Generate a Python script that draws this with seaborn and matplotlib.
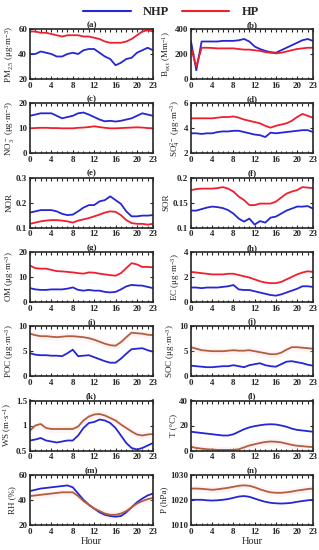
import numpy as np
import pandas as pd
import matplotlib.pyplot as plt
import seaborn as sns
from matplotlib.ticker import MultipleLocator, FixedLocator

hours = list(range(24))

pm25_nhp = [40, 40, 42, 41, 40, 38, 38, 40, 41, 40, 43, 44, 44, 41, 38, 36, 31, 33, 36, 37, 41, 43, 45, 43]
pm25_hp = [58, 58, 57, 57, 56, 55, 54, 55, 55, 55, 54, 54, 53, 52, 50, 49, 49, 49, 50, 52, 55, 58, 59, 58]

bext_nhp = [300, 70, 300, 300, 300, 300, 305, 305, 305, 310, 320, 300, 260, 240, 225, 215, 210, 230, 250, 270, 290, 310, 320, 305]
bext_hp = [250, 100, 250, 250, 248, 245, 245, 245, 245, 240, 235, 235, 230, 225, 215, 210, 205, 210, 220, 230, 240, 245, 250, 250]

no3_nhp = [15, 15.5, 16, 16, 16, 15, 14, 14.5, 15, 16, 16.3, 15.5, 14.5, 13.5, 12.8, 13, 12.7, 13, 13.5, 14, 15, 16, 15.5, 15]
no3_hp = [10, 10.1, 10.2, 10.2, 10.1, 10.1, 10, 10, 10, 10.2, 10.3, 10.5, 10.8, 10.5, 10.2, 10, 10, 10.1, 10.2, 10.3, 10.4, 10.3, 10.1, 10]

so4_nhp = [3.6, 3.6, 3.55, 3.6, 3.6, 3.7, 3.75, 3.75, 3.8, 3.8, 3.7, 3.6, 3.5, 3.45, 3.3, 3.65, 3.6, 3.65, 3.7, 3.75, 3.8, 3.85, 3.85, 3.7]
so4_hp = [4.8, 4.8, 4.8, 4.8, 4.8, 4.85, 4.9, 4.9, 4.95, 4.85, 4.7, 4.6, 4.5, 4.4, 4.2, 4.05, 4.2, 4.3, 4.4, 4.6, 4.9, 5.15, 5.0, 4.85]

nor_nhp = [0.16, 0.165, 0.17, 0.17, 0.17, 0.165, 0.155, 0.15, 0.152, 0.165, 0.18, 0.19, 0.19, 0.205, 0.21, 0.225, 0.21, 0.195, 0.165, 0.145, 0.145, 0.148, 0.148, 0.15]
nor_hp = [0.115, 0.12, 0.125, 0.128, 0.13, 0.13, 0.128, 0.125, 0.12, 0.128, 0.133, 0.138, 0.145, 0.152, 0.16, 0.165, 0.163, 0.15, 0.13, 0.118, 0.115, 0.115, 0.112, 0.115]

sor_nhp = [0.134, 0.134, 0.137, 0.14, 0.142, 0.141, 0.139, 0.135, 0.128, 0.118, 0.112, 0.118, 0.106, 0.113, 0.11, 0.12, 0.122, 0.128, 0.134, 0.138, 0.142, 0.142, 0.143, 0.138]
sor_hp = [0.175, 0.177, 0.178, 0.178, 0.178, 0.179, 0.181, 0.178, 0.172, 0.162, 0.155, 0.145, 0.145, 0.148, 0.148, 0.148, 0.152, 0.16, 0.168, 0.172, 0.175, 0.181, 0.18, 0.179]

om_nhp = [5.5, 5.0, 4.8, 4.8, 5.0, 5.0, 5.0, 5.3, 5.8, 4.8, 4.5, 4.8, 4.5, 4.5, 4.0, 3.8, 4.0, 5.0, 6.2, 6.8, 6.6, 6.5, 6.0, 5.5]
om_hp = [14.5, 13.5, 13.3, 13.3, 12.8, 12.3, 12.2, 12.0, 11.8, 11.5, 11.3, 11.8, 11.7, 11.3, 11.0, 10.7, 10.5, 11.5, 13.5, 15.5, 15.0, 14.0, 14.0, 13.8]

ec_nhp = [1.15, 1.15, 1.1, 1.15, 1.15, 1.15, 1.2, 1.25, 1.35, 1.0, 0.95, 0.95, 0.85, 0.75, 0.65, 0.55, 0.5, 0.6, 0.75, 0.9, 1.05, 1.25, 1.25, 1.2]
ec_hp = [2.4, 2.35, 2.3, 2.25, 2.2, 2.2, 2.2, 2.25, 2.25, 2.15, 2.05, 1.95, 1.8, 1.65, 1.55, 1.5, 1.5, 1.6, 1.8, 2.0, 2.2, 2.35, 2.45, 2.4]

poc_nhp = [4.6, 4.3, 4.2, 4.2, 4.1, 4.1, 4.0, 4.6, 5.3, 4.0, 4.1, 4.2, 3.8, 3.4, 3.0, 2.7, 2.7, 3.5, 4.5, 5.4, 5.5, 5.6, 5.2, 4.9]
poc_hp = [8.5, 8.2, 8.0, 8.0, 7.9, 7.8, 7.9, 8.0, 8.0, 7.9, 7.8, 7.6, 7.3, 6.9, 6.5, 6.2, 6.1, 6.8, 7.8, 8.7, 8.6, 8.5, 8.3, 8.2]

soc_nhp = [2.1, 2.0, 1.9, 1.8, 1.8, 1.9, 2.0, 2.0, 2.2, 2.0, 1.8, 2.2, 2.4, 2.6, 2.2, 2.0, 1.9, 2.4, 2.9, 3.0, 2.8, 2.6, 2.3, 2.1]
soc_hp = [5.8, 5.5, 5.2, 5.1, 5.0, 5.0, 5.0, 5.1, 5.2, 5.1, 5.1, 5.2, 5.0, 4.8, 4.6, 4.4, 4.4, 4.7, 5.3, 5.8, 5.8, 5.7, 5.6, 5.5]

ws_nhp = [0.7, 0.72, 0.75, 0.7, 0.68, 0.66, 0.68, 0.7, 0.7, 0.8, 0.95, 1.05, 1.07, 1.12, 1.1, 1.05, 0.95, 0.8, 0.65, 0.55, 0.52, 0.55, 0.6, 0.65]
ws_hp = [0.9, 1.0, 1.03, 0.95, 0.93, 0.93, 0.93, 0.93, 0.93, 0.98, 1.1, 1.18, 1.22, 1.23, 1.2, 1.15, 1.1, 1.02, 0.95, 0.88, 0.82, 0.8, 0.82, 0.83]

t_nhp = [15, 14.5, 14, 13.5, 13, 12.5, 12, 12, 13, 15, 17, 18.5, 19.5, 20.2, 20.8, 21, 20.8, 20, 19, 17.5, 16.5, 16, 15.5, 15]
t_hp = [3, 2, 1.5, 1, 0.8, 0.5, 0.5, 0.5, 0.5, 1, 2.5, 4, 5, 6, 6.8, 7.2, 7, 6.5, 5.5, 4.5, 3.8, 3.5, 3, 2.8]

rh_nhp = [47, 48, 49, 49.5, 50, 50.5, 51, 51.5, 50, 45, 40, 36, 33, 30, 28, 27, 26.5, 27, 30, 34, 38, 41, 43.5, 45]
rh_hp = [43, 43.5, 44, 44.5, 45, 45.5, 46, 46, 46, 43, 39, 36, 33, 31, 29, 28, 28, 29, 31, 34, 37, 39, 40.5, 41.5]

p_nhp = [1020, 1020, 1020, 1019.8, 1019.7, 1019.8, 1020, 1020.3, 1020.8, 1021.3, 1021.5, 1021.2, 1020.5, 1019.8, 1019.2, 1018.8, 1018.6, 1018.5, 1018.6, 1018.8, 1019.2, 1019.5, 1019.8, 1020]
p_hp = [1024.5, 1024.5, 1024.4, 1024.2, 1024, 1024.2, 1024.5, 1024.8, 1025.2, 1025.6, 1025.8, 1025.6, 1025, 1024.2, 1023.5, 1023, 1022.8, 1022.8, 1023, 1023.3, 1023.7, 1024, 1024.3, 1024.5]

panels = [
    ("(a)", r"PM$_{2.5}$ (μg·m$^{-3}$)", pm25_nhp, pm25_hp, (20, 60), [20, 40, 60]),
    ("(b)", r"B$_{ext}$ (Mm$^{-1}$)", bext_nhp, bext_hp, (0, 400), [0, 200, 400]),
    ("(c)", r"NO$_3^-$ (μg·m$^{-3}$)", no3_nhp, no3_hp, (0, 20), [0, 10, 20]),
    ("(d)", r"SO$_4^{2-}$ (μg·m$^{-3}$)", so4_nhp, so4_hp, (2, 6), [2, 4, 6]),
    ("(e)", "NOR", nor_nhp, nor_hp, (0.1, 0.3), [0.1, 0.2, 0.3]),
    ("(f)", "SOR", sor_nhp, sor_hp, (0.1, 0.2), [0.1, 0.15, 0.2]),
    ("(g)", r"OM (μg·m$^{-3}$)", om_nhp, om_hp, (0, 20), [0, 10, 20]),
    ("(h)", r"EC (μg·m$^{-3}$)", ec_nhp, ec_hp, (0, 4), [0, 2, 4]),
    ("(i)", r"POC (μg·m$^{-3}$)", poc_nhp, poc_hp, (0, 10), [0, 5, 10]),
    ("(j)", r"SOC (μg·m$^{-3}$)", soc_nhp, soc_hp, (0, 10), [0, 5, 10]),
    ("(k)", r"WS (m·s$^{-1}$)", ws_nhp, ws_hp, (0.5, 1.5), [0.5, 1, 1.5]),
    ("(l)", "T (°C)", t_nhp, t_hp, (0, 40), [0, 20, 40]),
    ("(m)", "RH (%)", rh_nhp, rh_hp, (20, 60), [20, 40, 60]),
    ("(n)", "P (hPa)", p_nhp, p_hp, (1010, 1030), [1010, 1020, 1030]),
]

sns.set_theme(style="ticks")
plt.rcParams['font.family'] = ['Liberation Serif', 'DejaVu Serif']
plt.rcParams['font.weight'] = 'bold'
plt.rcParams['mathtext.fontset'] = 'custom'
plt.rcParams['mathtext.rm'] = 'Liberation Serif:bold'
plt.rcParams['mathtext.it'] = 'Liberation Serif:bold'
plt.rcParams['mathtext.bf'] = 'Liberation Serif:bold'
plt.rcParams['mathtext.default'] = 'regular'

BLUE = "#2626d4"
RED = "#f01f2e"
BROWN = "#b0603c"

W, H = 319, 550
fig = plt.figure(figsize=(W / 100, H / 100), dpi=100)

col_left = [30, 191]
col_width = [123, 122]
row_top0, row_pitch, ax_h = 29, 74.3, 50

for i, (tag, ylab, nhp, hp, ylim, yticks) in enumerate(panels):
    r, c = divmod(i, 2)
    top = row_top0 + r * row_pitch
    ax = fig.add_axes([col_left[c] / W, 1 - (top + ax_h) / H, col_width[c] / W, ax_h / H])
    df = pd.DataFrame({"Hour": hours + hours,
                       "Value": nhp + hp,
                       "Group": ["NHP"] * 24 + ["HP"] * 24})
    hp_color = RED if i < 8 else BROWN
    # faint pink shading behind the HP curve in the lower panels
    if i >= 8:
        span = (ylim[1] - ylim[0]) * 0.07
        ax.fill_between(hours, np.array(hp) - span, np.array(hp) + span,
                        color="#fcd9df", alpha=0.3, lw=0)
    sns.lineplot(data=df, x="Hour", y="Value", hue="Group", ax=ax,
                 palette={"NHP": BLUE, "HP": hp_color}, linewidth=1.3, legend=False)
    ax.set_xlim(0, 23)
    ax.set_ylim(*ylim)
    ax.xaxis.set_major_locator(FixedLocator([0, 4, 8, 12, 16, 20, 23]))
    ax.xaxis.set_minor_locator(MultipleLocator(1))
    ax.set_yticks(yticks)
    ax.set_yticklabels([f"{v:g}" for v in yticks])
    ax.tick_params(which="both", direction="in", top=True, right=True, labelsize=6.5, pad=2)
    ax.tick_params(which="major", length=2.5, width=0.8)
    ax.tick_params(which="minor", length=1.8, width=0.8)
    for s in ax.spines.values():
        s.set_linewidth(1.2)
    ax.set_title(tag, fontsize=6.5, pad=1.5, fontweight="bold")
    ax.set_ylabel(ylab, fontsize=6.5, labelpad=1.5)
    if r == 6:
        ax.set_xlabel("Hour", fontsize=7.5, labelpad=1)
    else:
        ax.set_xlabel("")

handles = [plt.Line2D([], [], color=BLUE, lw=1.5), plt.Line2D([], [], color=RED, lw=1.5)]
fig.legend(handles, ["NHP", "HP"], loc="center", bbox_to_anchor=(171 / W, 1 - 12 / H), ncol=2,
           frameon=False, handlelength=3.8, fontsize=9, columnspacing=1.0, handletextpad=1.0,
           borderpad=0, borderaxespad=0)

fig.savefig("out.png", dpi=100)
